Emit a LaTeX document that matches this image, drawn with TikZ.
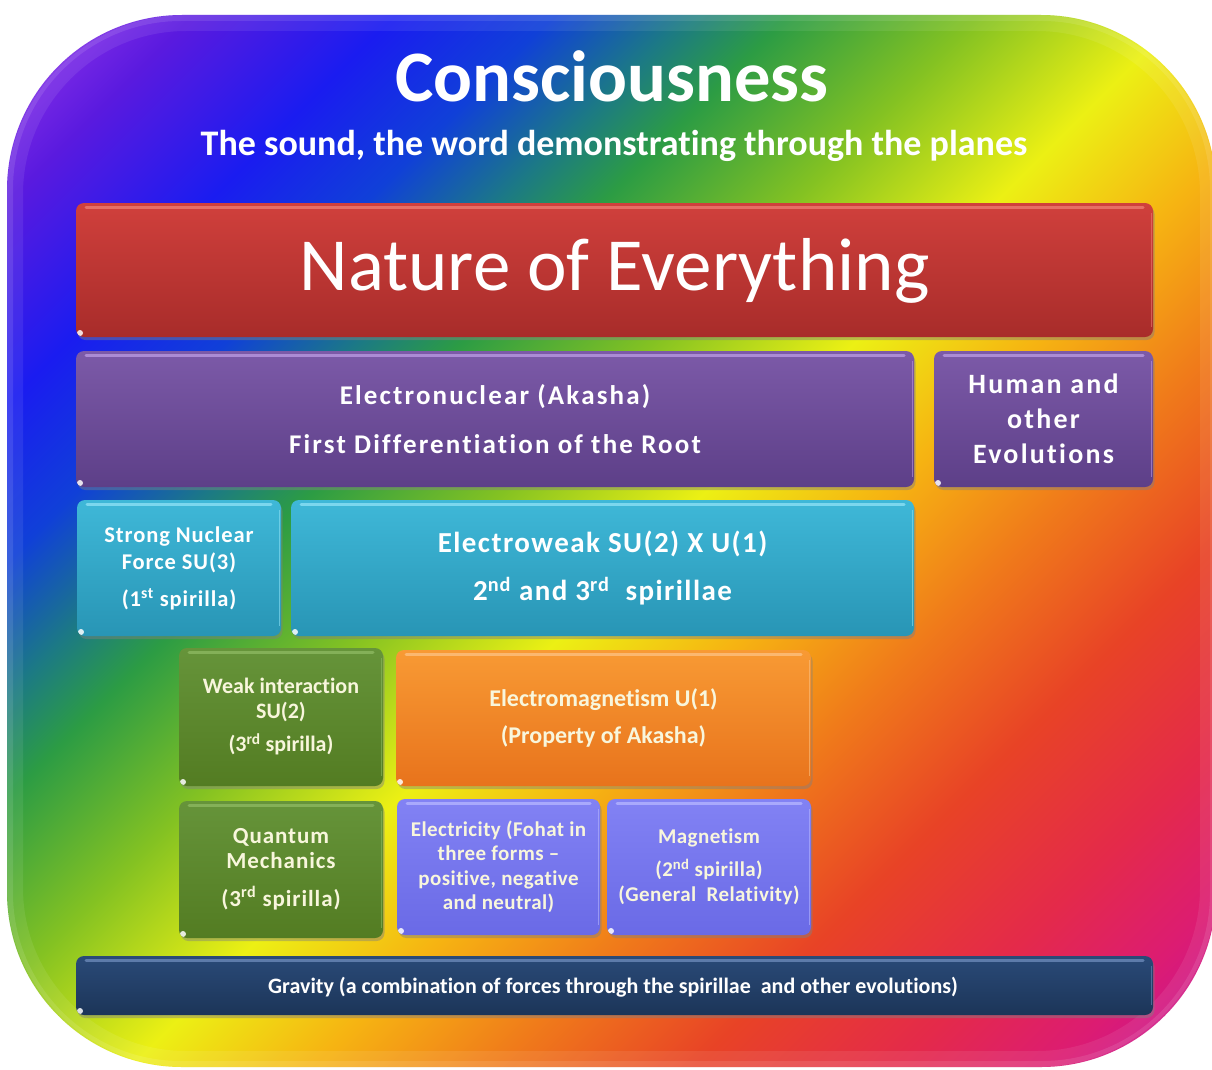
\documentclass[tikz,border=0pt]{standalone}
\usepackage{fontspec}
\setmainfont{Carlito}[RawFeature={-liga}]
\newfontfamily\spA[LetterSpace=8,RawFeature={-liga}]{Carlito}
\newfontfamily\spB[LetterSpace=5,RawFeature={-liga}]{Carlito}
\newfontfamily\spC[LetterSpace=4,RawFeature={-liga}]{Carlito}
\newfontfamily\spD[LetterSpace=2,RawFeature={-liga}]{Carlito}
\usetikzlibrary{shadows}
\definecolor{rb0}{HTML}{9A38EC}
\definecolor{rb1}{HTML}{5A1ADF}
\definecolor{rb2}{HTML}{1A1CF0}
\definecolor{rb3}{HTML}{1040D8}
\definecolor{rb4}{HTML}{1C7A84}
\definecolor{rb5}{HTML}{2C9C44}
\definecolor{rb6}{HTML}{84C222}
\definecolor{rb7}{HTML}{ECF014}
\definecolor{rb8}{HTML}{F6B412}
\definecolor{rb9}{HTML}{F07C1A}
\definecolor{rb10}{HTML}{E84326}
\definecolor{rb11}{HTML}{E42A4A}
\definecolor{rb12}{HTML}{DC1C72}
\definecolor{rb13}{HTML}{C010A0}
\pgfdeclarehorizontalshading{rainbow}{100bp}{color(0bp)=(rb0); color(14.64bp)=(rb0); color(20.30bp)=(rb1); color(26.66bp)=(rb2); color(31.61bp)=(rb3); color(35.85bp)=(rb4); color(39.03bp)=(rb5); color(45.05bp)=(rb6); color(51.41bp)=(rb7); color(57.07bp)=(rb8); color(62.72bp)=(rb9); color(69.09bp)=(rb10); color(75.45bp)=(rb11); color(80.40bp)=(rb12); color(85.35bp)=(rb13); color(100bp)=(rb13)}
\definecolor{redT}{HTML}{D0403C}\definecolor{redB}{HTML}{A82C2A}\definecolor{redH}{HTML}{EC7A70}
\definecolor{purT}{HTML}{7C5AA8}\definecolor{purB}{HTML}{5D3F88}\definecolor{purH}{HTML}{B898E0}
\definecolor{cyaT}{HTML}{3FB8D8}\definecolor{cyaB}{HTML}{2895B5}\definecolor{cyaH}{HTML}{8CE0F4}
\definecolor{grnT}{HTML}{66943A}\definecolor{grnB}{HTML}{537C22}\definecolor{grnH}{HTML}{8CB860}
\definecolor{oraT}{HTML}{F89A34}\definecolor{oraB}{HTML}{E8731C}\definecolor{oraH}{HTML}{FCC080}
\definecolor{perT}{HTML}{8282F4}\definecolor{perB}{HTML}{6A6AE6}\definecolor{perH}{HTML}{B4B4FF}
\definecolor{navT}{HTML}{2A4A78}\definecolor{navB}{HTML}{1C3558}\definecolor{navH}{HTML}{6A88B8}
\definecolor{cream}{HTML}{F8F6DC}
\tikzset{
  panel/.style n args={3}{rounded corners=8pt, top color=#1, bottom color=#2, draw=none,
    drop shadow={shadow xshift=1.5pt, shadow yshift=-3pt, opacity=.45},
    path picture={
      \draw[line width=3pt, line cap=round, color=#3, opacity=.8]
        ([xshift=10pt,yshift=-4pt]path picture bounding box.north west) --
        ([xshift=-10pt,yshift=-4pt]path picture bounding box.north east);
      \draw[line width=1.5pt, color=#3, opacity=.6]
        ([xshift=-1.5pt,yshift=-10pt]path picture bounding box.north east) --
        ([xshift=-1.5pt,yshift=10pt]path picture bounding box.south east);
      \fill[white, opacity=.85] ([xshift=4pt,yshift=4pt]path picture bounding box.south west) circle (3pt);
    },
    inner sep=0pt, align=center, text=white},
  redbox/.style={panel={redT}{redB}{redH}},
  purbox/.style={panel={purT}{purB}{purH}},
  cyabox/.style={panel={cyaT}{cyaB}{cyaH}},
  grnbox/.style={panel={grnT}{grnB}{grnH}, text=cream},
  orabox/.style={panel={oraT}{oraB}{oraH}, text=cream},
  perbox/.style={panel={perT}{perB}{perH}, text=cream},
  navbox/.style={panel={navT}{navB}{navH}},
  label/.style={text=white, inner sep=0pt, anchor=base},
  rim/.style={white, rounded corners=171pt},
}
\begin{document}
\begin{tikzpicture}[x=1pt,y=-1pt]
\useasboundingbox (0,0) rectangle (1212,1070);
\fill[white] (0,0) rectangle (1212,1070);
% background
\shade[shading=rainbow, shading angle=-45, rounded corners=175pt] (7,15) rectangle (1216,1067);
\draw[rim, opacity=.08, line width=16pt] (15,23) rectangle (1208,1059);
\draw[rim, opacity=.10, line width=6pt] (10,18) rectangle (1213,1064);
% title
\node[label, font=\bfseries\fontsize{72.5}{72}\selectfont] (title) at (612,102) {Consciousness};
\node[label, font=\bfseries\fontsize{36}{36}\selectfont] (subtitle) at (614,155) {The sound, the word demonstrating through the planes};
% boxes
\node[redbox, minimum width=1077, minimum height=134] (nature) at (614.5,270) {};
\node[label, font=\fontsize{75}{75}\selectfont] (naturetxt) at (614.5,290) {Nature of Everything};
\node[purbox, minimum width=838, minimum height=136, font=\spA\bfseries\fontsize{27}{49}\selectfont] (electro) at (495,419)
  {Electronuclear (Akasha)\\First Differentiation of the Root};
\node[purbox, minimum width=219, minimum height=136, font=\spA\bfseries\fontsize{28}{35}\selectfont] (human) at (1043.5,419)
  {Human and\\other\\Evolutions};
\node[cyabox, minimum width=204, minimum height=136, font=\spC\bfseries\fontsize{22.5}{27}\selectfont] (strong) at (179,568)
  {Strong Nuclear\\Force SU(3)\\[10pt](1\textsuperscript{st} spirilla)};
\node[cyabox, minimum width=623, minimum height=136, font=\spB\bfseries\fontsize{29}{48}\selectfont] (eweak) at (602.5,568)
  {Electroweak SU(2) X U(1)\\2\textsuperscript{nd} and 3\textsuperscript{rd}\ \ spirillae};
\node[grnbox, minimum width=204, minimum height=138, font=\bfseries\fontsize{22}{25}\selectfont] (weak) at (281,717)
  {Weak interaction\\SU(2)\\[8pt](3\textsuperscript{rd} spirilla)};
\node[orabox, minimum width=415, minimum height=136, font=\bfseries\fontsize{24}{37}\selectfont] (emag) at (603.5,718)
  {\raisebox{3pt}{Electromagnetism U(1)}\\\raisebox{3pt}{(Property of Akasha)}};
\node[grnbox, minimum width=204, minimum height=137, font=\spC\bfseries\fontsize{23}{25}\selectfont] (quantum) at (281,869.5)
  {Quantum\\Mechanics\\[13pt](3\textsuperscript{rd} spirilla)};
\node[perbox, minimum width=203, minimum height=136, font=\spD\bfseries\fontsize{21}{24.5}\selectfont] (electricity) at (498.5,867)
  {Electricity (Fohat in\\three forms –\\positive, negative\\and neutral)};
\node[perbox, minimum width=204, minimum height=136, font=\spD\bfseries\fontsize{21}{25}\selectfont] (magnetism) at (709,867)
  {Magnetism\\[8pt](2\textsuperscript{nd} spirilla)\\(General\ \ Relativity)};
\node[navbox, minimum width=1077, minimum height=59] (gravity) at (614.5,985.5) {};
\node[label, font=\bfseries\fontsize{22}{22}\selectfont] (gravitytxt) at (613,993)
  {Gravity (a combination of forces through the spirillae\ \ and other evolutions)};
\end{tikzpicture}
\end{document}
